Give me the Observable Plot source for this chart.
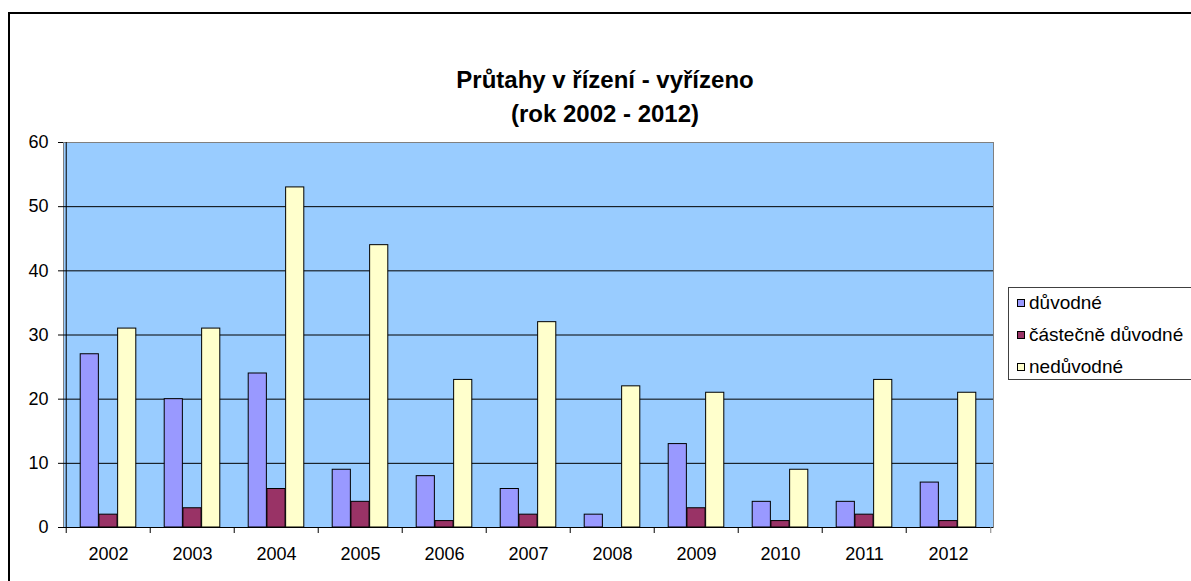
<!DOCTYPE html>
<html><head><meta charset="utf-8">
<script src="https://cdn.jsdelivr.net/npm/d3@7"></script>
<script src="https://cdn.jsdelivr.net/npm/@observablehq/plot@0.6"></script>
<style>
html,body{margin:0;padding:0;background:#fff;overflow:hidden;width:1191px;height:581px;position:relative;}
#frame{position:absolute;left:8px;top:12px;width:1400px;height:800px;border:2px solid #000;box-sizing:border-box;}
#title{position:absolute;left:0;top:63px;width:1210px;text-align:center;font:bold 24px/34px 'Liberation Sans',Arial,sans-serif;color:#000;}
#chart{position:absolute;left:0;top:0;}
#chart svg{overflow:visible;}
#legend{position:absolute;left:1008px;top:287px;width:220px;height:93px;box-sizing:border-box;border:1px solid #404040;background:#fff;font:19px 'Liberation Sans',Arial,sans-serif;}
.row{position:absolute;left:0;height:32px;display:flex;align-items:center;white-space:nowrap;}
.mk{width:8px;height:8px;box-sizing:border-box;border:1px solid #000;margin-left:8px;margin-right:4px;}
</style></head><body>
<div id="frame"></div>
<div id="title">Průtahy v řízení - vyřízeno<br>(rok 2002 - 2012)</div>
<div id="chart"></div>
<div id="legend"></div>
<script>
const years = ["2002","2003","2004","2005","2006","2007","2008","2009","2010","2011","2012"];
const seriesNames = ["důvodné", "částečně důvodné", "nedůvodné"];
const duvodne = [27, 20, 24, 9, 8, 6, 2, 13, 4, 4, 7];
const castecneDuvodne = [2, 3, 6, 4, 1, 2, 0, 3, 1, 2, 1];
const neduvodne = [31, 31, 53, 44, 23, 32, 22, 21, 9, 23, 21];
const seriesColors = ["#9999FF", "#993366", "#FFFFCC"];
const yTicks = [0, 10, 20, 30, 40, 50, 60];
const gridValues = [10, 20, 30, 40, 50];

const seriesValues = [duvodne, castecneDuvodne, neduvodne];

const W = 1191, H = 581;
const mL = 63, mR = 198, mT = 142, mB = 54;
const bw = (W - mL - mR) / years.length;
const gw = bw * 0.664;
const barW = gw / 3;
const off = (bw - gw) / 2;

const barMarks = seriesValues.map((vals, k) =>
  Plot.barY(years.map((y, i) => ({year: y, value: vals[i], series: seriesNames[k]})), {
    x: "year", y: "value", fill: seriesColors[k], stroke: "black", strokeWidth: 1,
    insetLeft: off + k * barW, insetRight: bw - off - (k + 1) * barW
  })
);

const chart = Plot.plot({
  width: W, height: H,
  marginLeft: mL, marginRight: mR, marginTop: mT, marginBottom: mB,
  style: {fontFamily: "'Liberation Sans', Arial, sans-serif", fontSize: "18px", background: "transparent", color: "black"},
  x: {type: "band", domain: years, padding: 0, label: null},
  y: {domain: [0, 60], label: null},
  marks: [
    Plot.frame({fill: "#99CCFF", stroke: "#808080"}),
    Plot.ruleY(gridValues, {stroke: "black", strokeWidth: 1}),
    ...barMarks,
    Plot.ruleY([0], {stroke: "black", strokeWidth: 1}),
    Plot.ruleX([years[0]], {dx: -bw / 2, stroke: "black", strokeWidth: 1}),
    Plot.ruleX(years, {x: d => d, y1: 0, y2: 0, dx: -bw / 2, insetBottom: -6, stroke: "black"}),
    Plot.ruleX([years[years.length - 1]], {x: d => d, y1: 0, y2: 0, dx: bw / 2, insetBottom: -6, stroke: "#808080"}),
    Plot.axisY({ticks: yTicks, tickSize: 5, tickPadding: 10, fontSize: 18, tickFormat: d => String(d), label: null}),
    Plot.axisX({tickSize: 0, tickPadding: 20, fontSize: 18, label: null})
  ]
});
document.getElementById("chart").appendChild(chart);

const legend = document.getElementById("legend");
seriesNames.forEach((name, k) => {
  const row = document.createElement("div");
  row.className = "row";
  row.style.top = (-1 + 32 * k) + "px";
  const mk = document.createElement("div");
  mk.className = "mk";
  mk.style.background = seriesColors[k];
  const t = document.createElement("span");
  t.textContent = name;
  row.appendChild(mk); row.appendChild(t);
  legend.appendChild(row);
});
</script>
</body></html>
